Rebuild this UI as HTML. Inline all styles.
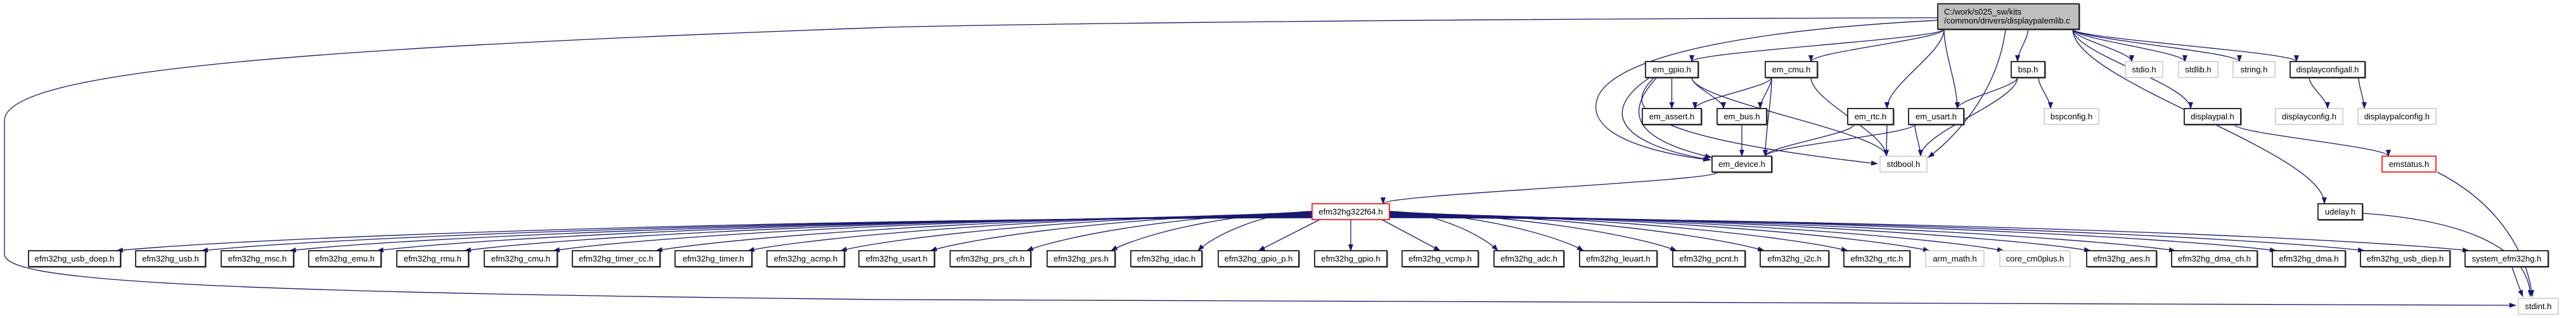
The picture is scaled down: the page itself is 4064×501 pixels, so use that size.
<!DOCTYPE html>
<html><head><meta charset="utf-8"><title>displaypalemlib.c include graph</title>
<style>
html,body{margin:0;padding:0;background:#fff;}
svg{display:block;}
text{font-family:"Liberation Sans",sans-serif;font-size:13px;fill:#000;}
</style></head>
<body>
<svg id="g" width="4064" height="501" viewBox="0 0 4064 501" xmlns="http://www.w3.org/2000/svg">
<defs>
<marker id="ah" markerWidth="11" markerHeight="8" refX="10" refY="4" orient="auto" markerUnits="userSpaceOnUse">
<path d="M0,0 L11,4 L0,8 z" fill="#191970"/>
</marker>
</defs>
<g id="edges"></g>
<g id="nodes"></g>
</svg>
<script>
// node names, x-extents, row index, style (b=black, g=gray, r=red, m=main)
const nodeNames = ["main","em_gpio.h","em_cmu.h","bsp.h","stdio.h","stdlib.h","string.h","displayconfigall.h",
 "em_assert.h","em_bus.h","em_rtc.h","em_usart.h","bspconfig.h","displaypal.h","displayconfig.h","displaypalconfig.h",
 "em_device.h","stdbool.h","emstatus.h","efm32hg322f64.h","udelay.h",
 "efm32hg_usb_doep.h","efm32hg_usb.h","efm32hg_msc.h","efm32hg_emu.h","efm32hg_rmu.h","efm32hg_cmu.h","efm32hg_timer_cc.h",
 "efm32hg_timer.h","efm32hg_acmp.h","efm32hg_usart.h","efm32hg_prs_ch.h","efm32hg_prs.h","efm32hg_idac.h","efm32hg_gpio_p.h",
 "efm32hg_gpio.h","efm32hg_vcmp.h","efm32hg_adc.h","efm32hg_leuart.h","efm32hg_pcnt.h","efm32hg_i2c.h","efm32hg_rtc.h",
 "arm_math.h","core_cm0plus.h","efm32hg_aes.h","efm32hg_dma_ch.h","efm32hg_dma.h","efm32hg_usb_diep.h","system_efm32hg.h","stdint.h"];
const nodeLeft = [3057,2596,2785,3173,3353,3437,3523,3613, 2591,2709,2915,3011,3225,3446,3590,3720, 2701,2966,3758,2070,3657,
 45,214,349,487,626,764,903,1065,1210,1355,1499,1652,1784,1922,2074,2212,2357,2492,2639,2777,2909,3038,3155,3292,3426,3585,3724,3889,3973];
const nodeRight = [3280,2679,2867,3226,3412,3499,3589,3731, 2684,2787,2987,3098,3311,3535,3696,3843, 2795,3040,3843,2192,3727,
 190,324,463,601,739,879,1041,1186,1332,1474,1626,1759,1896,2049,2188,2332,2467,2614,2753,2885,3013,3130,3266,3402,3561,3700,3865,4020,4036];
const nodeRow = [0,1,1,1,1,1,1,1, 2,2,2,2,2,2,2,2, 3,3,3,4,4, 5,5,5,5,5,5,5,5,5,5,5,5,5,5,5,5,5,5,5,5,5,5,5,5,5,5,5,5,6];
const nodeStyle = ["m","b","b","b","g","g","g","b", "b","b","b","b","g","b","g","g", "b","g","r","r","b",
 "b","b","b","b","b","b","b","b","b","b","b","b","b","b","b","b","b","b","b","b","b","g","g","b","b","b","b","b","g"];
const rowTop = [6,97,171,246,321,395,470];
const rowH = 25;

// edges: source, target
const edgeFrom = ["main","main","main","main","main","main","main","main","main","main","main",
 "em_gpio.h","em_gpio.h","em_gpio.h","em_cmu.h","em_cmu.h","em_cmu.h","em_cmu.h","em_bus.h",
 "em_rtc.h","em_rtc.h","em_usart.h","em_usart.h","bsp.h","bsp.h","bsp.h",
 "displayconfigall.h","displayconfigall.h","displaypal.h","em_device.h"];
const edgeTo = ["em_gpio.h","em_cmu.h","em_rtc.h","em_usart.h","bsp.h","stdio.h","stdlib.h","string.h","displayconfigall.h","displaypal.h","udelay.h",
 "em_assert.h","em_bus.h","stdbool.h","em_assert.h","em_bus.h","em_device.h","stdbool.h","em_device.h",
 "em_device.h","stdbool.h","em_device.h","stdbool.h","em_usart.h","bspconfig.h","stdbool.h",
 "displayconfig.h","displaypalconfig.h","emstatus.h","efm32hg322f64.h"];

const NS = "http://www.w3.org/2000/svg";
const E = document.getElementById('edges'), N = document.getElementById('nodes');
function idx(n){return nodeNames.indexOf(n);}
function box(n){const i=idx(n);const t=rowTop[nodeRow[i]];return {l:nodeLeft[i],r:nodeRight[i],t:t,b:(nodeStyle[i]==="m"?46:t+rowH),cx:(nodeLeft[i]+nodeRight[i])/2};}
function clamp(v,a,b){return Math.max(a,Math.min(b,v));}
function addPath(d,name){
  const p=document.createElementNS(NS,'path');
  p.setAttribute('d',d);p.setAttribute('fill','none');p.setAttribute('stroke','#191970');
  p.setAttribute('stroke-width','1.3');p.setAttribute('marker-end','url(#ah)');
  
  
  E.appendChild(p);
}
// generic edges
for(let k=0;k<edgeFrom.length;k++){
  const s=box(edgeFrom[k]), t=box(edgeTo[k]);
  const sx=clamp(t.cx,s.l+10,s.r-10), sy=s.b;
  const tx=clamp(s.cx,t.l+10,t.r-10), ty=t.t;
  const dy=ty-sy;
  addPath(`M${sx},${sy} C${sx},${sy+dy*0.3} ${tx},${ty-dy*0.3} ${tx},${ty}`,'edge-'+edgeFrom[k]+'-'+edgeTo[k]);
}
// special curved edges
addPath("M3057,32 C2800,45 2560,80 2522,150 C2495,210 2600,240 2697,252","edge-main-em_device.h");
addPath("M3164,47 C3150,150 3080,220 3042,248","edge-main-stdbool.h");
addPath("M2610,122 C2560,170 2580,215 2962,258","edge-em_gpio.h-stdbool.h");
addPath("M2603,122 C2530,170 2540,225 2699,252","edge-em_gpio.h-em_device.h");
addPath("M2614,122 C2560,180 2580,220 2700,248","edge-em_gpio.h-em_device.h-2");
addPath("M3057,28 C2200,30 1600,38 1400,43 C500,75 7,110 7,190 L7,400 C7,440 250,460 1400,472 L3969,481","edge-main-stdint.h");
addPath("M3845,271 C3960,330 3990,420 3995,467","edge-emstatus.h-stdint.h");
addPath("M3727,336 C3860,345 3990,380 3992,467","edge-udelay.h-stdint.h");
addPath("M3963,421 C3970,440 3975,455 3980,467","edge-system_efm32hg.h-stdint.h");
// fan from efm32hg322f64.h to bottom row
const fan = nodeNames.filter((n,i)=>nodeRow[i]===5);
const src = box("efm32hg322f64.h");
fan.forEach((n,j)=>{
  const t=box(n);
  let d;
  if(Math.abs(t.cx-src.cx)<260){
    const sx=clamp(t.cx,src.l+12,src.r-12);
    d=`M${sx},${src.b} L${t.cx},${t.t}`;
  } else if(t.cx<src.cx){
    const sx=src.l, sy=src.t+10+Math.min(12,(src.cx-t.cx)/150);
    const ex=t.r-6, ey=t.t;
    d=`M${sx},${sy} C${sx-(sx-ex)*0.45},${sy+2} ${ex+(sx-ex)*0.12},${ey-22} ${ex},${ey}`;
  } else {
    const sx=src.r, sy=src.t+10+Math.min(12,(t.cx-src.cx)/150);
    const ex=t.l+6, ey=t.t;
    d=`M${sx},${sy} C${sx+(ex-sx)*0.45},${sy+2} ${ex-(ex-sx)*0.12},${ey-22} ${ex},${ey}`;
  }
  addPath(d,'edge-efm32hg322f64.h-'+n);
});
// nodes
nodeNames.forEach((n,i)=>{
  const b=box(n), st=nodeStyle[i];
  const g=document.createElementNS(NS,'g');
  
  
  const r=document.createElementNS(NS,'rect');
  r.setAttribute('x',b.l);r.setAttribute('y',b.t);r.setAttribute('width',b.r-b.l);r.setAttribute('height',b.b-b.t);
  r.setAttribute('fill',st==="m"?"#bfbfbf":"#ffffff");
  r.setAttribute('stroke',st==="g"?"#bfbfbf":(st==="r"?"#ff0000":"#000000"));
  r.setAttribute('stroke-width',st==="g"?"1.3":"1.6");
  g.appendChild(r);
  if(st==="b"||st==="m"){
    const sh=document.createElementNS(NS,'path');
    sh.setAttribute('d',`M${b.l+1},${b.b+1} L${b.r+1},${b.b+1} L${b.r+1},${b.t+1}`);
    sh.setAttribute('stroke','#404040');sh.setAttribute('stroke-width','1.2');sh.setAttribute('fill','none');
    g.appendChild(sh);
  }
  if(st==="m"){
    ["C:/work/s025_sw/kits","/common/drivers/displaypalemlib.c"].forEach((s,k)=>{
      const t=document.createElementNS(NS,'text');
      t.setAttribute('x',b.l+10);t.setAttribute('y',b.t+17+k*14);t.textContent=s;g.appendChild(t);
    });
  } else {
    const t=document.createElementNS(NS,'text');
    t.setAttribute('x',b.cx);t.setAttribute('y',b.t+17);t.setAttribute('text-anchor','middle');
    t.textContent=n;g.appendChild(t);
  }
  N.appendChild(g);
});
</script>
</body></html>
